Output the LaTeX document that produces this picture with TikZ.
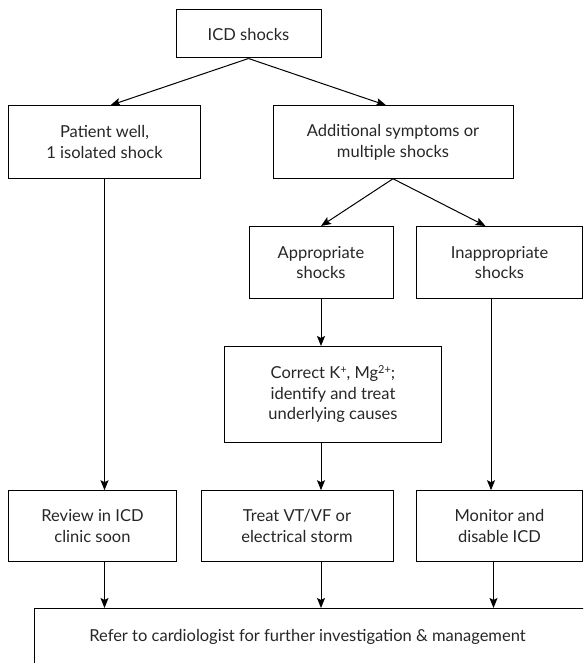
\documentclass[tikz,border=0pt]{standalone}
\usepackage{fontspec}
\setmainfont{Lato}
\usetikzlibrary{arrows.meta}
\newcommand{\supch}[1]{\raisebox{0.55ex}{\fontsize{11}{11}\selectfont #1}}

\begin{document}
\begin{tikzpicture}[x=1pt,y=-1pt,
    box/.style={draw, line width=1pt, align=center, inner sep=0pt,
        font=\fontsize{16.5}{20.7}\selectfont, text=black!85},
    arr/.style={line width=1pt, -{Stealth[length=10pt,width=8pt,inset=2pt]}}]
            \useasboundingbox (0,0) rectangle (583,663);
            \clip (0,0) rectangle (583,663);

            % Top of the chart
            \node[box, minimum width=145, minimum height=48] (icd) at (248.5,34) {ICD shocks};
            \node[box, minimum width=192, minimum height=72.5] (well) at (104.5,142) {Patient well,\\1 isolated shock};
            \node[box, minimum width=240, minimum height=72.5] (addl) at (393,142) {Additional symptoms or\\multiple shocks};

            % Kinds of shocks
            \node[box, minimum width=144, minimum height=72] (approp) at (321,262.5) {Appropriate\\shocks};
            \node[box, minimum width=165.5, minimum height=72] (inapprop) at (499.5,262.5) {Inappropriate\\shocks};
            \node[box, minimum width=217, minimum height=96] (correct) at (333,394.5) {Correct K\supch{+}, Mg\supch{2+};\\identify and treat\\underlying causes};

            % What to do
            \node[box, minimum width=168.5, minimum height=71] (review) at (92.5,526.2) {Review in ICD\\clinic soon};
            \node[box, minimum width=192, minimum height=71] (treat) at (297,526.2) {Treat VT/VF or\\electrical storm};
            \node[box, minimum width=165.5, minimum height=71] (monitor) at (499.5,526.2) {Monitor and\\disable ICD};

            % Last step, box runs off the page
            \node[box, anchor=north west, minimum width=580, minimum height=62] (refer) at (34,608) {};
            \node[font=\fontsize{16.5}{20.7}\selectfont, text=black!85] (refertext) at (307.5,637) {Refer to cardiologist for further investigation \& management};

            % Arrows
            \draw[arr] (icd.south) -- ([xshift=6]well.north);
            \draw[arr] (icd.south) -- ([xshift=-7]addl.north);
            \draw[arr] (addl.south) -- (approp.north);
            \draw[arr] (addl.south) -- ([xshift=-14]inapprop.north);
            \draw[arr] (approp.south) -- (approp.south |- correct.north);
            \draw[arr] (approp.south |- correct.south) -- (approp.south |- treat.north);
            \draw[arr] (well.south) -- (well.south |- review.north);
            \draw[arr] ([xshift=-8.5]inapprop.south) -- ([xshift=-8.5]inapprop.south |- monitor.north);

            \draw[arr] (well.south |- review.south) -- (well.south |- refer.north);
            \draw[arr] (approp.south |- treat.south) -- (approp.south |- refer.north);
            \draw[arr] ([xshift=-6]monitor.south) -- ([xshift=-6]monitor.south |- refer.north);
        \end{tikzpicture}
\end{document}
